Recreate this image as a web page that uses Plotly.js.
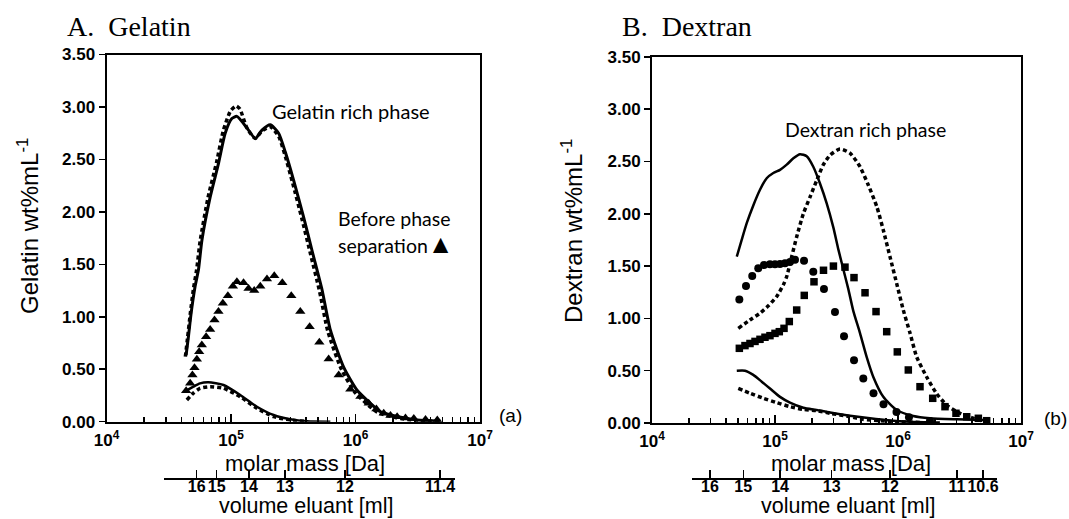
<!DOCTYPE html>
<html><head><meta charset="utf-8">
<script src="https://cdn.plot.ly/plotly-3.0.1.min.js"></script>
<style>html,body{margin:0;padding:0;background:#fff}#chart{width:1069px;height:519px}</style>
</head><body><div id="chart"></div>
<script>
// ---------------- Panel A: Gelatin ----------------
const gelRichSolidMass = [43600, 45500, 47900, 51500, 54800, 58400, 68000, 79300, 89800, 101600, 111500, 134200, 156600, 177300, 206700, 241200, 273000, 318600, 383000, 450000, 538000, 628000, 803000, 1030000, 1318000, 1585000, 2160000, 3130000, 4820000];
const gelRichSolidVal  = [0.635, 0.81, 1.04, 1.29, 1.45, 1.73, 2.14, 2.46, 2.75, 2.89, 2.91, 2.80, 2.70, 2.78, 2.83, 2.75, 2.57, 2.30, 1.95, 1.62, 1.26, 0.875, 0.52, 0.30, 0.175, 0.095, 0.05, 0.016, 0.005];
const gelRichDotMass = [43000, 44800, 47000, 50000, 53000, 56500, 65500, 76500, 87000, 99000, 110000, 118000, 134200, 156600, 177300, 206700, 241200, 270000, 312000, 372000, 435000, 515000, 600000, 770000, 990000, 1260000, 1520000, 2100000, 3000000, 4700000];
const gelRichDotVal  = [0.62, 0.80, 1.02, 1.27, 1.45, 1.72, 2.14, 2.47, 2.78, 2.96, 3.01, 2.98, 2.80, 2.70, 2.77, 2.81, 2.72, 2.55, 2.28, 1.93, 1.60, 1.24, 0.86, 0.50, 0.28, 0.16, 0.085, 0.04, 0.012, 0.003];
const gelPoorSolidMass = [44400, 49900, 56400, 65900, 87100, 118600, 161500, 219800, 299300, 408000, 628000];
const gelPoorSolidVal  = [0.30, 0.334, 0.365, 0.375, 0.35, 0.255, 0.143, 0.064, 0.023, 0.004, 0.0];
const gelPoorDotMass = [44200, 49600, 56400, 68000, 87100, 118600, 161500, 219800, 299300, 408000];
const gelPoorDotVal  = [0.207, 0.27, 0.318, 0.334, 0.318, 0.238, 0.128, 0.048, 0.016, 0.002];
const gelBeforeMass = [43600, 47000, 49000, 50900, 53200, 55500, 58300, 63100, 68000, 73700, 79300, 86000, 94400, 103600, 111500, 126100, 138300, 153700, 171900, 194500, 222700, 258400, 305000, 360300, 428300, 512500, 608700, 733000, 909000, 1094000, 1276000, 1472000, 1686000, 1909000, 2160000, 2520000, 2940000, 3650000, 4540000];
const gelBeforeVal  = [0.296, 0.366, 0.445, 0.515, 0.595, 0.667, 0.73, 0.81, 0.88, 0.97, 1.05, 1.13, 1.20, 1.29, 1.335, 1.325, 1.27, 1.25, 1.29, 1.36, 1.39, 1.325, 1.20, 1.05, 0.905, 0.757, 0.598, 0.445, 0.31, 0.24, 0.175, 0.12, 0.08, 0.06, 0.048, 0.035, 0.03, 0.02, 0.016];
const volLabelsA = ['16', '15', '14', '13', '12', '11.4'];
const volMassA   = [53200, 77000, 140000, 273000, 828000, 4820000];

// ---------------- Panel B: Dextran ----------------
const dexRichSolidMass = [48900, 53600, 58900, 66600, 75500, 85600, 96900, 109800, 124500, 141000, 159700, 181100, 204800, 232200, 263200, 298000, 327300, 359300, 394700, 433400, 491000, 556800, 630000, 759100, 975000, 1331000, 1818000, 3000000, 4930000];
const dexRichSolidVal  = [1.59, 1.75, 1.91, 2.08, 2.23, 2.34, 2.39, 2.42, 2.47, 2.53, 2.57, 2.55, 2.45, 2.29, 2.10, 1.87, 1.66, 1.47, 1.28, 1.07, 0.86, 0.63, 0.44, 0.25, 0.124, 0.067, 0.045, 0.035, 0.029];
const dexRichDotMass = [50300, 62600, 75500, 88200, 103300, 116800, 124500, 136700, 150100, 169900, 192600, 218400, 247300, 280100, 337600, 407100, 491000, 573500, 671800, 759100, 860300, 975000, 1104000, 1252000, 1420000, 1711000, 2064000, 2490000, 3190000, 4090000, 5260000];
const dexRichDotVal  = [0.905, 0.985, 1.05, 1.12, 1.21, 1.32, 1.40, 1.59, 1.78, 2.00, 2.16, 2.32, 2.47, 2.56, 2.62, 2.58, 2.45, 2.275, 2.07, 1.845, 1.59, 1.335, 1.08, 0.86, 0.63, 0.44, 0.28, 0.17, 0.093, 0.045, 0.012];
const dexPoorSolidMass = [48900, 57000, 66600, 78000, 91000, 109800, 132400, 169900, 218400, 280100, 407100, 591900, 860300, 1252000, 2190000];
const dexPoorSolidVal  = [0.50, 0.50, 0.46, 0.395, 0.33, 0.25, 0.195, 0.146, 0.124, 0.10, 0.07, 0.045, 0.025, 0.012, 0.004];
const dexPoorDotMass = [50300, 62600, 80400, 103300, 132400, 169900, 218400, 280100, 407100, 519000, 713900, 975000, 1510000];
const dexPoorDotVal  = [0.33, 0.285, 0.236, 0.195, 0.156, 0.13, 0.118, 0.093, 0.06, 0.035, 0.022, 0.012, 0.005];
const dexCircleMass = [51300, 58100, 65300, 73100, 81400, 91000, 100000, 109800, 120600, 132400, 145400, 172200, 204800, 250100, 307300, 364000, 439000, 522300, 632200, 762400, 972400, 1228000, 1820000];
const dexCircleVal  = [1.18, 1.31, 1.405, 1.48, 1.51, 1.517, 1.517, 1.52, 1.527, 1.54, 1.56, 1.55, 1.445, 1.28, 1.06, 0.83, 0.60, 0.425, 0.285, 0.18, 0.105, 0.055, 0.02];
const dexSquareMass = [51300, 57000, 62600, 68800, 75500, 82900, 91000, 100000, 108400, 118400, 130700, 150100, 173000, 207500, 247900, 298500, 370700, 438800, 539400, 662700, 809400, 986900, 1213000, 1510000, 1915000, 2410000, 2960000, 3620000, 4500000, 5260000];
const dexSquareVal  = [0.714, 0.74, 0.76, 0.78, 0.80, 0.82, 0.835, 0.857, 0.873, 0.905, 0.97, 1.08, 1.22, 1.35, 1.46, 1.50, 1.49, 1.39, 1.245, 1.065, 0.873, 0.68, 0.507, 0.347, 0.236, 0.156, 0.093, 0.06, 0.045, 0.022];
const volLabelsB = ['16', '15', '14', '13', '12', '11', '10.6'];
const volMassB   = [29600, 55200, 110000, 289000, 861000, 3020000, 4910000];

// ---------------- shared tick labels ----------------
const decadeVals = [1e4, 1e5, 1e6, 1e7];
const decadeText = ['10<sup>4</sup>', '10<sup>5</sup>', '10<sup>6</sup>', '10<sup>7</sup>'];

const W = 1069, H = 519;
const px = x => x / W, py = y => 1 - y / H;
const minorVals = [];
for (let k = 4; k < 7; k++) for (let j = 2; j <= 9; j++) minorVals.push(j * Math.pow(10, k));

const sans = 'Liberation Sans, Arial, sans-serif';
const tickFont = {family: sans, size: 16, color: '#000', weight: 'bold'};

function solid(x, y, xa, ya, w) {
  return {x, y, xaxis: xa, yaxis: ya, type: 'scatter', mode: 'lines', line: {color: '#000', width: w || 3, shape: 'spline', smoothing: 0.6}, hoverinfo: 'skip'};
}
function dotted(x, y, xa, ya) {
  return {x, y, xaxis: xa, yaxis: ya, type: 'scatter', mode: 'lines', line: {color: '#000', width: 3.5, dash: '4px,3px', shape: 'spline', smoothing: 0.6}, hoverinfo: 'skip'};
}
function marks(x, y, xa, ya, sym, size) {
  return {x, y, xaxis: xa, yaxis: ya, type: 'scatter', mode: 'markers', marker: {color: '#000', symbol: sym, size: size, line: {width: 0}}, hoverinfo: 'skip'};
}
// invisible carrier so that the volume-eluant axes get drawn
function carrier(x, xa, ya) {
  return {x, y: x.map(() => 0.5), xaxis: xa, yaxis: ya, type: 'scatter', mode: 'markers', marker: {opacity: 0, size: 1}, hoverinfo: 'skip'};
}

const data = [
  dotted(gelRichDotMass, gelRichDotVal, 'x', 'y'),
  solid(gelRichSolidMass, gelRichSolidVal, 'x', 'y'),
  dotted(gelPoorDotMass, gelPoorDotVal, 'x', 'y'),
  solid(gelPoorSolidMass, gelPoorSolidVal, 'x', 'y', 2.5),
  marks(gelBeforeMass, gelBeforeVal, 'x', 'y', 'triangle-up', 9),
  dotted(dexRichDotMass, dexRichDotVal, 'x2', 'y2'),
  solid(dexRichSolidMass, dexRichSolidVal, 'x2', 'y2', 2.5),
  dotted(dexPoorDotMass, dexPoorDotVal, 'x2', 'y2'),
  solid(dexPoorSolidMass, dexPoorSolidVal, 'x2', 'y2', 2.5),
  marks(dexCircleMass, dexCircleVal, 'x2', 'y2', 'circle', 8),
  marks(dexSquareMass, dexSquareVal, 'x2', 'y2', 'square', 7.5),
  carrier(volMassA, 'x3', 'y3'),
  carrier(volMassB, 'x4', 'y4')
];

function mainX(dom, anchor) {
  return {domain: dom, anchor: anchor, type: 'log', range: [4, 7], tickmode: 'array', tickvals: decadeVals, ticktext: decadeText,
    ticks: 'inside', ticklen: 8, tickwidth: 1.5, tickcolor: '#000', showline: true, linewidth: 2, linecolor: '#000', mirror: true,
    showgrid: false, zeroline: false, tickangle: 0, tickfont: Object.assign({}, tickFont, {size: 17}), automargin: false, ticklabelstandoff: 2,
    minor: {tickmode: 'array', tickvals: minorVals, ticks: 'inside', ticklen: 5, tickwidth: 1.2, tickcolor: '#000', showgrid: false}};
}
function mainY(dom, anchor, tickDir) {
  return {domain: dom, anchor: anchor, range: [0, 3.5], tickmode: 'linear', tick0: 0, dtick: 0.5, tickformat: '.2f',
    ticks: tickDir, ticklen: 6, tickwidth: 1.5, tickcolor: '#000', showline: true, linewidth: 2, linecolor: '#000', mirror: true,
    showgrid: false, zeroline: false, tickfont: Object.assign({}, tickFont, {size: 17}), automargin: false};
}
function volX(dom, range, vals, labels) {
  return {domain: dom, anchor: 'free', position: py(479.3), type: 'log', range: range, tickmode: 'array', tickvals: vals, ticktext: labels,
    ticks: 'inside', ticklen: 8, tickwidth: 1.5, tickcolor: '#000', showline: true, linewidth: 2, linecolor: '#000',
    showgrid: false, zeroline: false, tickangle: 0, tickfont: tickFont, automargin: false, ticklabelstandoff: -8};
}

const ann = (text, x, y, opts) => Object.assign({text, x: px(x), y: py(y), xref: 'paper', yref: 'paper', showarrow: false,
  xanchor: 'center', yanchor: 'middle', font: {family: sans, size: 22, color: '#000'}}, opts || {});
const serif = {family: 'Liberation Serif, Times New Roman, serif', size: 28, color: '#000'};
const calib = {family: 'Lato, Carlito, sans-serif', size: 19.5, color: '#000'};
const nb = '\u00a0';
const volTitleFont = {family: sans, size: 21.5, color: '#000'};

const layout = {
  width: W, height: H, margin: {l: 0, r: 0, t: 0, b: 0}, autosize: false,
  paper_bgcolor: '#fff', plot_bgcolor: 'rgba(0,0,0,0)', showlegend: false,
  xaxis: mainX([px(106.5), px(480)], 'y'),
  yaxis: mainY([py(421.7), py(54.5)], 'x', 'outside'),
  xaxis2: mainX([px(652), px(1021)], 'y2'),
  yaxis2: mainY([py(423), py(56.9)], 'x2', 'outside'),
  xaxis3: volX([px(164), px(455)], [4.4626, 6.8037], volMassA, volLabelsA),
  yaxis3: {anchor: 'x3', domain: [0, 0.05], visible: false, range: [0, 1]},
  xaxis4: volX([px(691.5), px(997)], [4.3211, 6.8049], volMassB, volLabelsB),
  yaxis4: {anchor: 'x4', domain: [0, 0.05], visible: false, range: [0, 1]},
  annotations: [
    ann('A.' + nb + nb + 'Gelatin', 65, 26, {xanchor: 'left', font: serif}),
    ann('B.' + nb + nb + 'Dextran', 620, 26, {xanchor: 'left', font: serif}),
    ann('Gelatin wt%mL<sup>-1</sup>', 28, 226, {textangle: -90, font: {family: sans, size: 24, color: '#000'}}),
    ann('Dextran wt%mL<sup>-1</sup>', 572, 231, {textangle: -90, font: {family: sans, size: 24, color: '#000'}}),
    ann('molar mass [Da]', 305, 463.5),
    ann('molar mass [Da]', 851, 463.5),
    ann('volume eluant [ml]', 305.5, 505.5, {font: volTitleFont}),
    ann('volume eluant [ml]', 848, 505.5, {font: volTitleFont}),
    ann('(a)', 510, 415.5, {font: {family: sans, size: 19, color: '#000'}}),
    ann('(b)', 1055, 418, {font: {family: sans, size: 19, color: '#000'}}),
    ann('Gelatin rich phase', 270, 111, {xanchor: 'left', font: Object.assign({}, calib, {size: 20})}),
    ann('Before phase', 336, 218, {xanchor: 'left', font: calib}),
    ann('separation<span style="font-size:26px">\u25B2</span>', 336, 243, {xanchor: 'left', font: calib}),
    ann('Dextran rich phase', 783, 129, {xanchor: 'left', font: calib})
  ]
};

Plotly.newPlot('chart', data, layout, {staticPlot: true, displayModeBar: false});
</script></body></html>
